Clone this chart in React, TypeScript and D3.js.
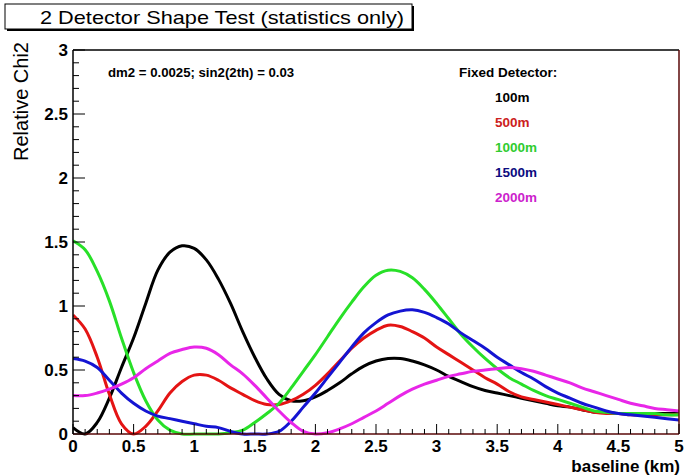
import React from "react";
import * as d3 from "d3";

const baseline: number[] = d3.range(0, 51).map((i) => i / 10);

const series100m: number[] = [
  0.05, 0.0, 0.09, 0.28, 0.52, 0.75, 1.02, 1.28, 1.42, 1.47,
  1.45, 1.36, 1.21, 1.02, 0.8, 0.6, 0.43, 0.31, 0.26, 0.26,
  0.29, 0.34, 0.4, 0.47, 0.53, 0.57, 0.59, 0.59, 0.57, 0.54,
  0.5, 0.45, 0.41, 0.37, 0.34, 0.32, 0.3, 0.28, 0.26, 0.24,
  0.22, 0.21, 0.19, 0.17, 0.17, 0.16, 0.16, 0.16, 0.16, 0.16, 0.16,
];
const series500m: number[] = [
  0.93, 0.82, 0.6, 0.31, 0.08, 0.0, 0.06, 0.18, 0.32, 0.41,
  0.46, 0.46, 0.42, 0.36, 0.31, 0.26, 0.23, 0.23, 0.26, 0.31,
  0.38, 0.47, 0.57, 0.67, 0.75, 0.81, 0.85, 0.84, 0.8, 0.75,
  0.68, 0.62, 0.56, 0.5, 0.44, 0.39, 0.33, 0.29, 0.27, 0.25,
  0.23, 0.21, 0.19, 0.17, 0.16, 0.16, 0.15, 0.15, 0.15, 0.15, 0.15,
];
const series1000m: number[] = [
  1.51, 1.44, 1.27, 1.04, 0.75, 0.48, 0.26, 0.11, 0.03, 0.0,
  0.0, 0.0, 0.0, 0.01, 0.03, 0.09, 0.16, 0.24, 0.36, 0.49,
  0.62, 0.76, 0.9, 1.03, 1.15, 1.24, 1.28, 1.27, 1.22, 1.13,
  1.02, 0.9, 0.78, 0.68, 0.59, 0.51, 0.44, 0.39, 0.34, 0.3,
  0.27, 0.24, 0.21, 0.18, 0.17, 0.16, 0.16, 0.16, 0.16, 0.15, 0.15,
];
const series1500m: number[] = [
  0.59, 0.57, 0.52, 0.42, 0.32, 0.24, 0.18, 0.14, 0.12, 0.1,
  0.08, 0.06, 0.05, 0.02, 0.0, 0.0, 0.0, 0.02, 0.1, 0.21,
  0.32, 0.44, 0.56, 0.68, 0.79, 0.87, 0.93, 0.96, 0.97, 0.95,
  0.91, 0.86, 0.79, 0.73, 0.67, 0.6, 0.54, 0.48, 0.43, 0.37,
  0.32, 0.28, 0.24, 0.21, 0.18, 0.16, 0.15, 0.14, 0.13, 0.12, 0.11,
];
const series2000m: number[] = [
  0.3, 0.3, 0.32, 0.35, 0.39, 0.44, 0.51, 0.57, 0.63, 0.66,
  0.68, 0.67, 0.62, 0.54, 0.47, 0.38, 0.28, 0.18, 0.09, 0.02,
  0.0, 0.01, 0.04, 0.08, 0.13, 0.18, 0.24, 0.3, 0.35, 0.39,
  0.42, 0.45, 0.47, 0.49, 0.5, 0.51, 0.52, 0.51, 0.49, 0.46,
  0.43, 0.4, 0.36, 0.33, 0.3, 0.27, 0.24, 0.22, 0.2, 0.19, 0.18,
];

const seriesNames: string[] = ["100m", "500m", "1000m", "1500m", "2000m"];
const seriesValues: number[][] = [series100m, series500m, series1000m, series1500m, series2000m];
const lineColors: string[] = ["#000000", "#e41414", "#28e028", "#1414d2", "#e826e8"];
const labelColors: string[] = ["#000000", "#cc2020", "#30cc30", "#0c0c80", "#cc22cc"];

const xTicks: number[] = [0, 0.5, 1, 1.5, 2, 2.5, 3, 3.5, 4, 4.5, 5];
const xTickLabels: string[] = ["0", "0.5", "1", "1.5", "2", "2.5", "3", "3.5", "4", "4.5", "5"];
const yTicks: number[] = [0, 0.5, 1, 1.5, 2, 2.5, 3];
const yTickLabels: string[] = ["0", "0.5", "1", "1.5", "2", "2.5", "3"];

const titleText = "2 Detector Shape Test (statistics only)";
const paramText = "dm2 = 0.0025; sin2(2th) = 0.03";
const legendTitle = "Fixed Detector:";
const xTitle = "baseline (km)";
const yTitle = "Relative Chi2";

export default function App() {
  const W = 684;
  const H = 476;
  const left = 73;
  const right = 679;
  const top = 50;
  const bottom = 434;

  const x = d3.scaleLinear().domain([0, 5]).range([left, right]);
  const y = d3.scaleLinear().domain([0, 3]).range([bottom, top]);

  const line = d3
    .line<[number, number]>()
    .x((d) => x(d[0]))
    .y((d) => y(d[1]))
    .curve(d3.curveCatmullRom.alpha(0.5));

  const minorX = d3.range(0, 51).map((i) => i / 10);
  const minorY = d3.range(0, 31).map((i) => i / 10);
  const font = "'Liberation Sans', Arial, Helvetica, sans-serif";

  return (
    <svg
      width={W}
      height={H}
      style={{ position: "absolute", left: 0, top: 0, background: "#fff" }}
      fontFamily={font}
    >
      <rect x={0} y={0} width={W} height={H} fill="#fff" />
      {/* title box */}
      <rect x={7} y={6} width={407} height={25} fill="#000" />
      <rect x={5} y={4} width={407} height={25} fill="#fff" stroke="#000" strokeWidth={1} />
      <text x={222} y={24} textAnchor="middle" fontSize={19} textLength={364} lengthAdjust="spacingAndGlyphs">
        {titleText}
      </text>

      <defs>
        <clipPath id="plotclip">
          <rect x={left} y={top - 2} width={right - left} height={bottom - top + 4} />
        </clipPath>
      </defs>

      {/* curves */}
      <g clipPath="url(#plotclip)">
        {seriesValues.map((vals, si) => (
          <path
            key={seriesNames[si]}
            d={line(baseline.map((b, i) => [b, vals[i]] as [number, number])) || ""}
            fill="none"
            stroke={lineColors[si]}
            strokeWidth={3}
            strokeLinejoin="round"
          />
        ))}
      </g>

      {/* frame */}
      <line x1={left} y1={top} x2={right} y2={top} stroke="#000" strokeWidth={1.5} />
      <line x1={left} y1={top} x2={left} y2={bottom} stroke="#000" strokeWidth={1.5} />
      <line x1={right} y1={top} x2={right} y2={bottom} stroke="#5a0808" strokeWidth={1.5} />
      <line x1={left} y1={bottom} x2={right} y2={bottom} stroke="#5a0808" strokeWidth={1.5} />

      {/* x ticks */}
      {minorX.map((v, i) => {
        const major = i % 5 === 0;
        return (
          <line
            key={"xt" + i}
            x1={x(v)}
            x2={x(v)}
            y1={bottom}
            y2={bottom - (major ? 10 : 5)}
            stroke="#000"
            strokeWidth={1}
          />
        );
      })}
      {/* y ticks */}
      {minorY.map((v, i) => {
        const major = i % 5 === 0;
        return (
          <line
            key={"yt" + i}
            x1={left}
            x2={left + (major ? 12 : 6)}
            y1={y(v)}
            y2={y(v)}
            stroke="#000"
            strokeWidth={1}
          />
        );
      })}

      {/* tick labels */}
      {xTicks.map((v, i) => (
        <text key={"xl" + i} x={x(v)} y={452} textAnchor="middle" fontSize={17} fontWeight="bold">
          {xTickLabels[i]}
        </text>
      ))}
      {yTicks.map((v, i) => (
        <text key={"yl" + i} x={68} y={y(v) + 6} textAnchor="end" fontSize={17} fontWeight="bold">
          {yTickLabels[i]}
        </text>
      ))}

      {/* axis titles */}
      <text x={680} y={472} textAnchor="end" fontSize={17} fontWeight="bold">
        {xTitle}
      </text>
      <text
        transform={`translate(28,42) rotate(-90)`}
        textAnchor="end"
        fontSize={20}
      >
        {yTitle}
      </text>

      {/* annotations */}
      <text x={108} y={77} fontSize={13.2} fontWeight="bold">
        {paramText}
      </text>
      <text x={459} y={77} fontSize={13.5} fontWeight="bold">
        {legendTitle}
      </text>
      {seriesNames.map((n, i) => (
        <text key={"lg" + n} x={495} y={102 + i * 25} fontSize={13.5} fontWeight="bold" fill={labelColors[i]}>
          {n}
        </text>
      ))}
    </svg>
  );
}
